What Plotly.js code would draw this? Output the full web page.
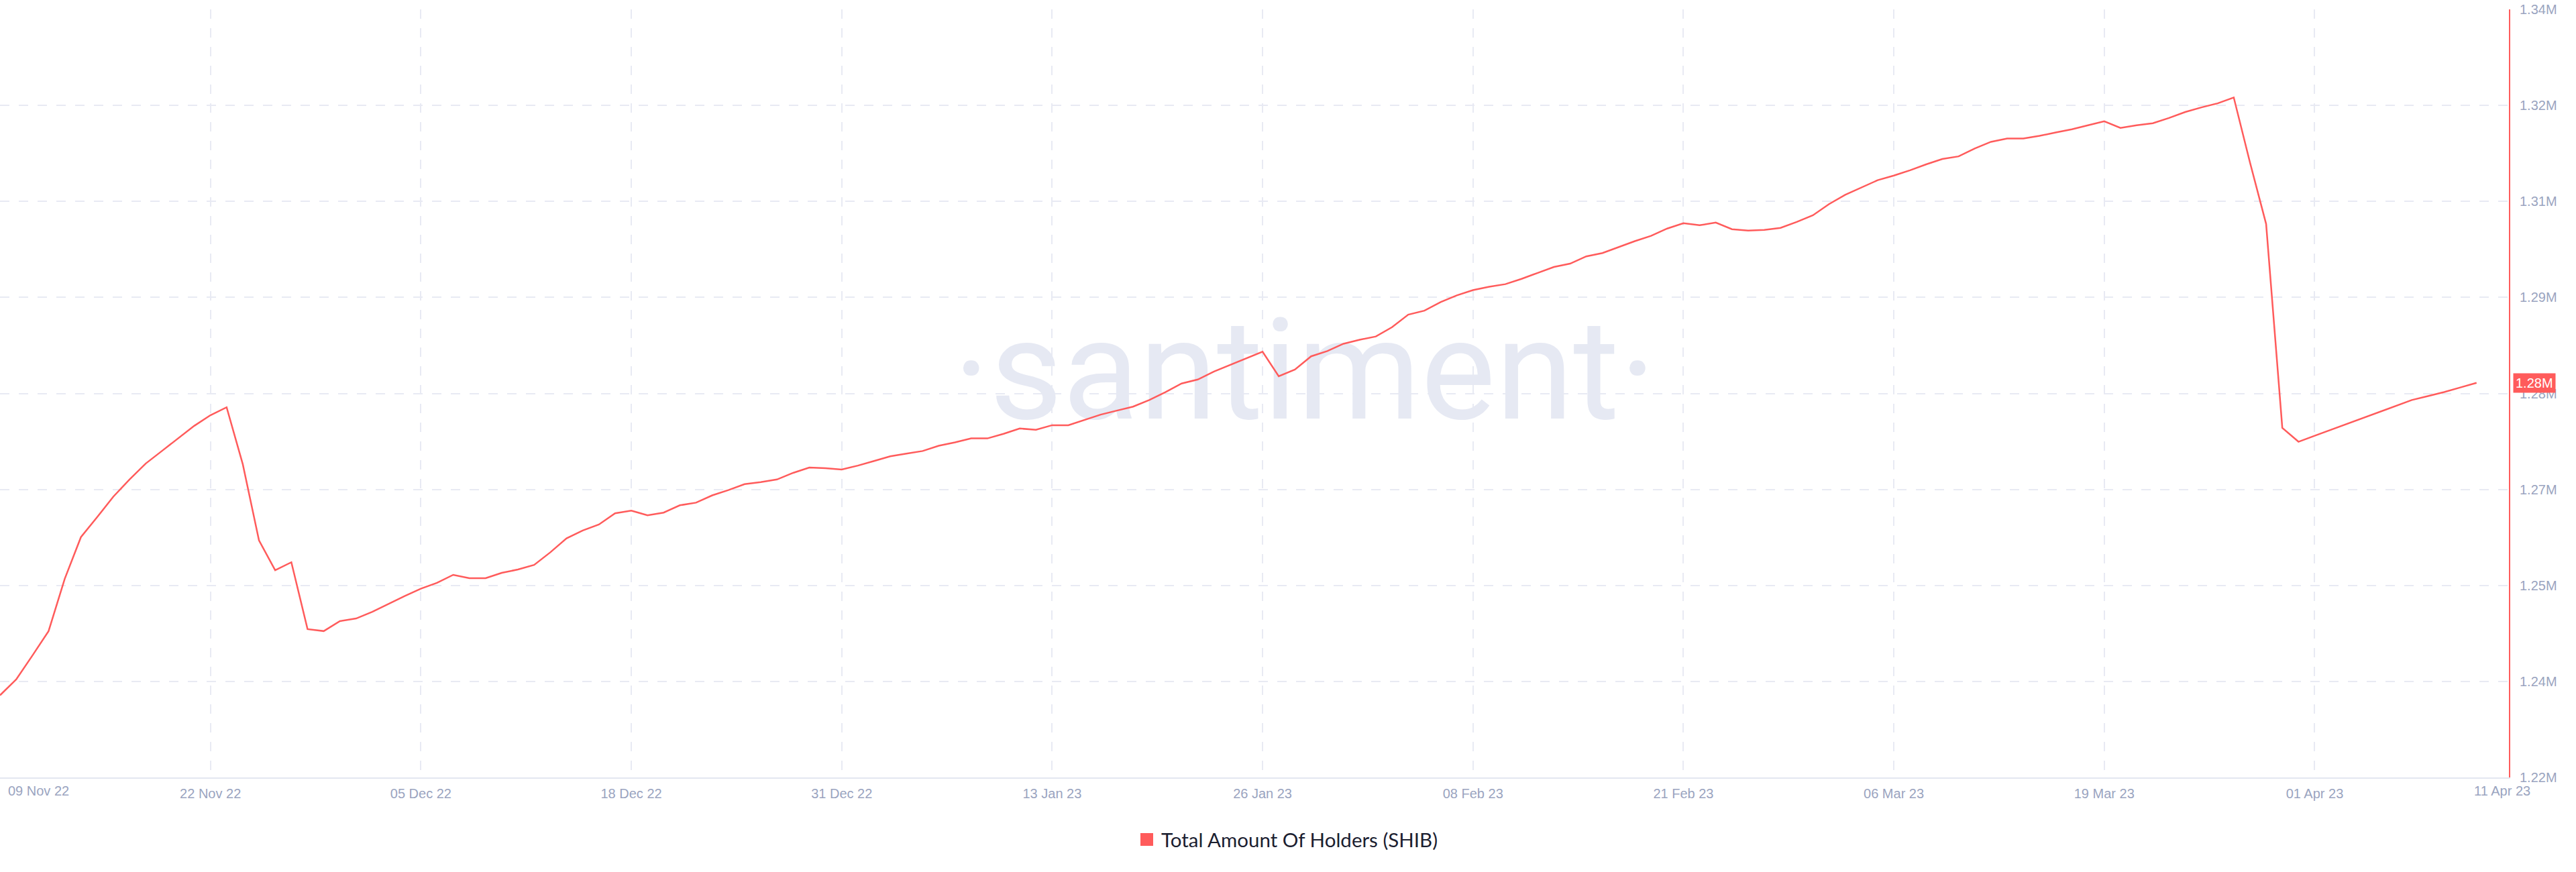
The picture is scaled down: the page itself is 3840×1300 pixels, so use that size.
<!DOCTYPE html>
<html>
<head>
<meta charset="utf-8">
<script src="https://cdn.plot.ly/plotly-3.0.1.min.js"></script>
<style>
  html, body { margin: 0; padding: 0; background: #ffffff; }
  #chart { width: 3840px; height: 1300px; }
</style>
</head>
<body>
<div id="chart"></div>
<script>
// ---- data (daily, starting 09 Nov 2022), values in thousands of holders ----
const startDate = '2022-11-09';
const holdersK = [
  1234.4, 1236.8, 1240.4, 1244.1, 1252.0, 1258.3, 1261.3, 1264.4, 1267.0, 1269.4,
  1271.3, 1273.2, 1275.1, 1276.7, 1277.9, 1269.3, 1257.8, 1253.3, 1254.5, 1244.4,
  1244.1, 1245.6, 1246.0, 1247.0, 1248.2, 1249.4, 1250.5, 1251.4, 1252.6, 1252.1,
  1252.1, 1252.9, 1253.4, 1254.1, 1256.0, 1258.1, 1259.3, 1260.2, 1261.9, 1262.3,
  1261.6, 1262.0, 1263.1, 1263.5, 1264.6, 1265.4, 1266.3, 1266.6, 1267.0, 1268.0,
  1268.8, 1268.7, 1268.5, 1269.1, 1269.8, 1270.5, 1270.9, 1271.3, 1272.1, 1272.6,
  1273.2, 1273.2, 1273.9, 1274.7, 1274.5, 1275.2, 1275.2, 1276.0, 1276.8, 1277.4,
  1278.0, 1279.0, 1280.2, 1281.5, 1282.1, 1283.3, 1284.3, 1285.3, 1286.3, 1282.6,
  1283.6, 1285.6, 1286.4, 1287.5, 1288.1, 1288.6, 1290.0, 1291.9, 1292.5, 1293.8,
  1294.8, 1295.6, 1296.1, 1296.5, 1297.3, 1298.2, 1299.1, 1299.6, 1300.7, 1301.2,
  1302.1, 1303.0, 1303.8, 1304.9, 1305.7, 1305.4, 1305.8, 1304.8, 1304.6, 1304.7,
  1305.0, 1305.9, 1306.9, 1308.6, 1310.0, 1311.1, 1312.2, 1312.9, 1313.7, 1314.6,
  1315.4, 1315.8, 1317.0, 1318.0, 1318.5, 1318.5, 1318.9, 1319.4, 1319.9, 1320.5,
  1321.1, 1320.1, 1320.5, 1320.8, 1321.6, 1322.5, 1323.2, 1323.8, 1324.7, 1314.9,
  1305.6, 1274.8, 1272.7, 1273.6, 1274.5, 1275.4, 1276.3, 1277.2, 1278.1, 1279.0,
  1279.6, 1280.2, 1280.9, 1281.6
];
const seriesName = 'Total Amount Of Holders (SHIB)';

const xTickVals = ['2022-11-09','2022-11-22','2022-12-05','2022-12-18','2022-12-31','2023-01-13',
                   '2023-01-26','2023-02-08','2023-02-21','2023-03-06','2023-03-19','2023-04-01'];
const xTickText = ['', '22 Nov 22','05 Dec 22','18 Dec 22','31 Dec 22','13 Jan 23',
                   '26 Jan 23','08 Feb 23','21 Feb 23','06 Mar 23','19 Mar 23','01 Apr 23'];
const firstDateLabel = '09 Nov 22';
const lastDateLabel = '11 Apr 23';

const yTickVals = [1222000, 1236500, 1251000, 1265500, 1280000, 1294500, 1309000, 1323500, 1338000];
const yTickText = ['1.22M','1.24M','1.25M','1.27M','1.28M','1.29M','1.31M','1.32M','1.34M'];

// ---- build ----
const t0 = Date.parse(startDate + 'T00:00:00Z');
const dates = holdersK.map((_, i) => new Date(t0 + i * 86400000).toISOString().slice(0, 10));
const values = holdersK.map(v => v * 1000);

const xRange = ['2022-11-09', '2023-04-13'];
const yRange = [1222000, 1338000];

const RED = '#ff5b5b';
const TICK = '#9aa4bf';
const GRID = '#e8eaf3';

// watermark position as fraction of the plot area
const wmFx = 0.52, wmFy = 0.5135;
const xr0 = Date.parse(xRange[0] + 'T00:00:00Z'), xr1 = Date.parse(xRange[1] + 'T00:00:00Z');
const wmX = new Date(xr0 + wmFx * (xr1 - xr0)).toISOString();
const wmY = yRange[0] + wmFy * (yRange[1] - yRange[0]);

const watermark = {
  type: 'scatter', mode: 'text',
  x: [wmX], y: [wmY],
  text: ['·santiment·'],
  textposition: 'middle center',
  textfont: { family: 'Roboto, sans-serif', size: 210, color: '#e6e9f3' },
  hoverinfo: 'skip', showlegend: false
};

const line = {
  type: 'scatter', mode: 'lines',
  name: seriesName,
  x: dates, y: values,
  line: { color: RED, width: 2.5 },
  showlegend: false
};

const lastVal = values[values.length - 1];
const lastLabel = (lastVal / 1e6).toFixed(2) + 'M';

const layout = {
  width: 3840, height: 1300,
  margin: { l: 0, r: 100, t: 14, b: 141, pad: 0 },
  paper_bgcolor: '#ffffff', plot_bgcolor: '#ffffff',
  showlegend: false,
  font: { family: 'Liberation Sans, Arial, sans-serif', color: TICK },
  xaxis: {
    type: 'date', range: xRange,
    tickmode: 'array', tickvals: xTickVals, ticktext: xTickText,
    showgrid: true, gridcolor: GRID, gridwidth: 2, griddash: '14px,14px',
    showline: true, linecolor: '#e3e6f0', linewidth: 2,
    ticks: '', zeroline: false, ticklabelstandoff: 5,
    tickfont: { family: 'Liberation Sans, Arial, sans-serif', size: 20, color: TICK }
  },
  yaxis: {
    side: 'right', range: yRange,
    tickmode: 'array', tickvals: yTickVals, ticktext: yTickText,
    showgrid: true, gridcolor: GRID, gridwidth: 2, griddash: '14px,14px',
    showline: true, linecolor: RED, linewidth: 2,
    ticks: '', zeroline: false, ticklabelstandoff: 10,
    tickfont: { family: 'Liberation Sans, Arial, sans-serif', size: 20, color: TICK }
  },
  shapes: [
    { type: 'rect', xref: 'paper', yref: 'paper',
      x0: 1700 / 3740, x1: 1719 / 3740, y0: -83 / 1145, y1: -102 / 1145,
      fillcolor: RED, line: { width: 0 } }
  ],
  annotations: [
    { xref: 'paper', yref: 'paper', x: 1729 / 3740, y: -92.5 / 1145,
      xanchor: 'left', yanchor: 'middle', showarrow: false,
      text: seriesName, font: { family: 'Lato, Open Sans, sans-serif', size: 29.5, color: '#1b2030' } },
    { xref: 'paper', yref: 'paper', x: 0, xshift: 10, y: -20 / 1145,
      xanchor: 'left', yanchor: 'middle', showarrow: false,
      text: firstDateLabel, font: { family: 'Liberation Sans, Arial, sans-serif', size: 20, color: TICK } },
    { xref: 'paper', yref: 'paper', x: 3730 / 3740, y: -20 / 1145,
      xanchor: 'center', yanchor: 'middle', showarrow: false,
      text: lastDateLabel, font: { family: 'Liberation Sans, Arial, sans-serif', size: 20, color: TICK } },
    { xref: 'paper', yref: 'y', x: 1, xshift: 6, y: lastVal,
      xanchor: 'left', yanchor: 'middle', showarrow: false,
      text: lastLabel, bgcolor: RED, borderpad: 3,
      font: { family: 'Liberation Sans, Arial, sans-serif', size: 20, color: '#ffffff' } }
  ]
};

Plotly.newPlot('chart', [watermark, line], layout, { staticPlot: true, displayModeBar: false });
</script>
</body>
</html>
